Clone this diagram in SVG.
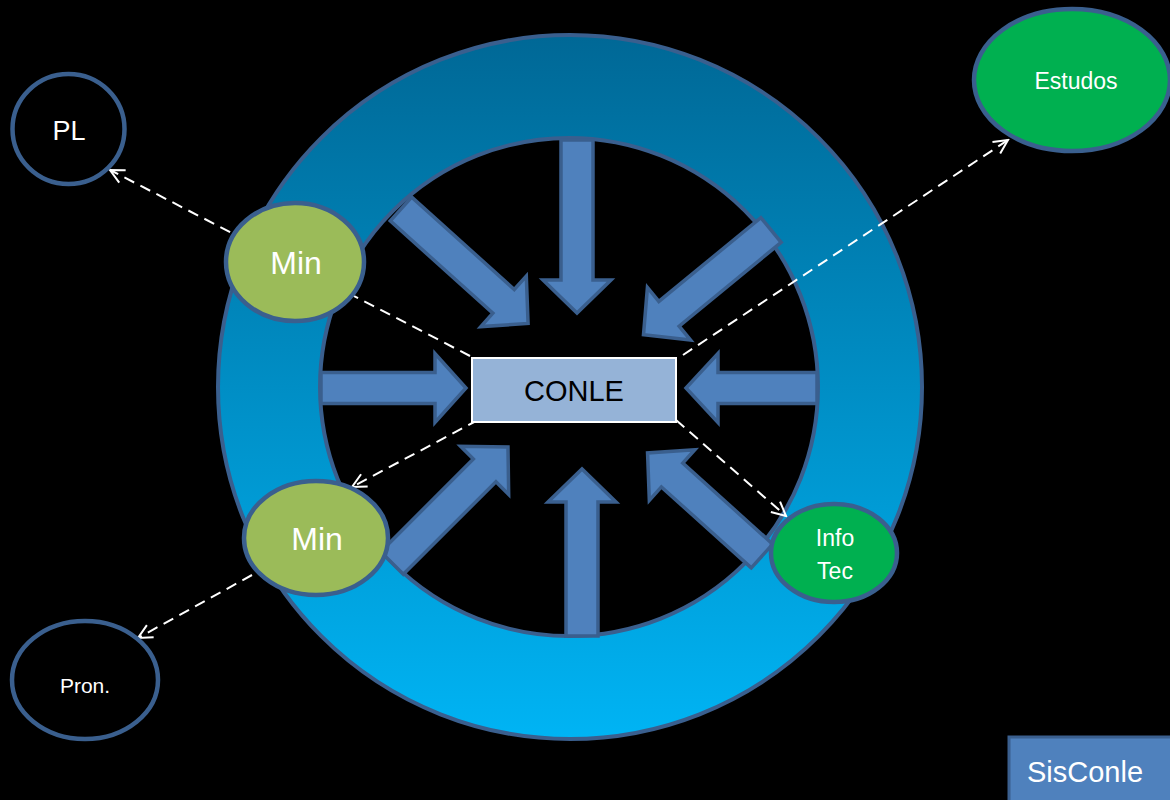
<svg xmlns="http://www.w3.org/2000/svg" width="1170" height="800" viewBox="0 0 1170 800">
<defs>
<linearGradient id="ringGrad" x1="0" y1="0" x2="0" y2="1">
<stop offset="0" stop-color="#006896"/>
<stop offset="1" stop-color="#00b4f4"/>
</linearGradient>
<marker id="open" markerUnits="userSpaceOnUse" markerWidth="20" markerHeight="20" viewBox="0 0 20 20" refX="18" refY="10" orient="auto">
<path d="M4,3 L18,10 L4,17" fill="none" stroke="#ffffff" stroke-width="2"/>
</marker>
<polygon id="arr" points="0,-16 -33,-16 -33,-34 0,0 -33,34 -33,16" />
</defs>
<style>
.bg{fill:#000000}
.ring{fill:url(#ringGrad);stroke:#3a5f8e;stroke-width:4;fill-rule:evenodd}
.blk{fill:#4f81bd;stroke:#3a5f8e;stroke-width:3.5;stroke-linejoin:miter}
.dash{fill:none;stroke:#ffffff;stroke-width:2;stroke-dasharray:11 7}
.nodeStroke{stroke:#3a5f8e;stroke-width:4.5}
.txt{font-family:"Liberation Sans",Arial,sans-serif;text-anchor:middle;fill:#ffffff}
</style>
<rect class="bg" x="0" y="0" width="1170" height="800"/>

<g id="ring">
<path class="ring" d="M218,387 A352,352 0 1,0 922,387 A352,352 0 1,0 218,387 Z M320,387 A249,249 0 1,0 818,387 A249,249 0 1,0 320,387 Z"/>
</g>

<g id="block-arrows">
<polygon class="blk" transform="translate(577,140) rotate(90)" points="0,-16 140,-16 140,-34 173,0 140,34 140,16 0,16"/>
<polygon class="blk" transform="translate(582,636) rotate(-90)" points="0,-16 134,-16 134,-34 167,0 134,34 134,16 0,16"/>
<polygon class="blk" transform="translate(321,388) rotate(0)" points="0,-15.5 114,-15.5 114,-34.5 145,0 114,34.5 114,15.5 0,15.5"/>
<polygon class="blk" transform="translate(817,388) rotate(180)" points="0,-15.5 99,-15.5 99,-34.5 131,0 99,34.5 99,15.5 0,15.5"/>
<polygon class="blk" transform="translate(401,209) rotate(42)" points="0,-16 138,-16 138,-34 171,0 138,34 138,16 0,16"/>
<polygon class="blk" transform="translate(771,230) rotate(140.6)" points="0,-16 132,-16 132,-34 165,0 132,34 132,16 0,16"/>
<polygon class="blk" transform="translate(392,563) rotate(-45)" points="0,-16 131,-16 131,-34 164,0 131,34 131,16 0,16"/>
<polygon class="blk" transform="translate(762,556) rotate(222)" points="0,-16 121,-16 121,-34 154,0 121,34 121,16 0,16"/>
</g>

<g id="connectors">
<line class="dash" x1="470" y1="356" x2="110" y2="170" marker-end="url(#open)"/>
<line class="dash" x1="683" y1="355" x2="1008" y2="140" marker-end="url(#open)"/>
<line class="dash" x1="478" y1="420" x2="352" y2="487" marker-end="url(#open)"/>
<line class="dash" x1="252" y1="575" x2="138" y2="638" marker-end="url(#open)"/>
<line class="dash" x1="676" y1="420" x2="786" y2="516" marker-end="url(#open)"/>
</g>

<g id="conle">
<rect x="472" y="358" width="204" height="64" fill="#95b3d7" stroke="#ffffff" stroke-width="2"/>
<text x="574" y="401" font-family="Liberation Sans, Arial, sans-serif" font-size="29" text-anchor="middle" fill="#000000">CONLE</text>
</g>

<g id="min-top">
<ellipse class="nodeStroke" cx="295" cy="262" rx="69" ry="59" fill="#9bbb59"/>
<text class="txt" x="296" y="274" font-size="32">Min</text>
</g>

<g id="min-bottom">
<ellipse class="nodeStroke" cx="316" cy="538" rx="72" ry="57" fill="#9bbb59"/>
<text class="txt" x="317" y="550" font-size="32">Min</text>
</g>

<g id="infotec">
<ellipse class="nodeStroke" cx="834" cy="553" rx="63" ry="49" fill="#00b050"/>
<text class="txt" x="835" y="546" font-size="23">Info</text>
<text class="txt" x="835" y="579" font-size="23">Tec</text>
</g>

<g id="estudos">
<ellipse class="nodeStroke" cx="1072" cy="80" rx="98" ry="71" fill="#00b050"/>
<text class="txt" x="1076" y="89" font-size="23">Estudos</text>
</g>

<g id="pl">
<ellipse class="nodeStroke" cx="68.5" cy="129" rx="56" ry="55" fill="none"/>
<text class="txt" x="69" y="140" font-size="27">PL</text>
</g>

<g id="pron">
<ellipse class="nodeStroke" cx="85" cy="680" rx="73" ry="59" fill="none"/>
<text class="txt" x="85" y="693" font-size="21">Pron.</text>
</g>

<g id="sisconle">
<rect x="1009" y="737" width="164" height="66" fill="#4f81bd" stroke="#3a5f8e" stroke-width="3"/>
<text class="txt" x="1085" y="782" font-size="29">SisConle</text>
</g>
</svg>
